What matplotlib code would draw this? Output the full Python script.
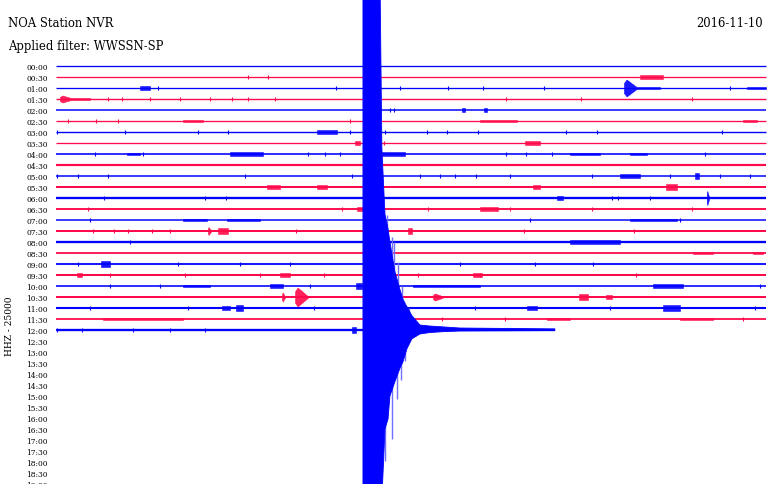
import numpy as np
import matplotlib
matplotlib.use("Agg")
import matplotlib.pyplot as plt

# helicorder: one trace per 30 minutes, x in minutes within the row
row_labels = ["%02d:%02d" % (h, m) for h in range(20) for m in (0, 30)][:39]
n_traces = 25                      # 00:00 .. 12:00 recorded so far
last_trace_end = 21.08             # minutes recorded in the 12:00 row

# apparent trace thickness per row (pixels)
row_noise = [1.3, 1.3, 1.3, 1.4, 1.5, 1.3, 1.4, 1.3, 1.6, 2.2, 1.5, 2.0, 2.3,
             1.9, 1.5, 2.0, 2.3, 1.8, 1.8, 2.0, 1.6, 2.0, 2.1, 1.8, 2.3]

# wave bursts: row, start (min), end (min), half amplitude (rows)
burst_row = [2, 3, 3, 5, 6, 7, 8, 8, 11, 11, 13, 14, 14, 15, 15, 18, 19, 19,
             20, 20, 20, 21, 21, 22, 22, 23, 24,
             1, 2, 2, 2, 4, 4, 5, 5, 7, 8, 8, 8, 10, 10, 11, 11, 12, 12, 13,
             14, 15, 16, 17, 17, 19, 20, 20, 21, 21, 21, 22, 22, 23, 23]
burst_start = [3.55, 0.17, 0.68, 5.37, 11.03, 12.63, 3.00, 7.35, 8.92, 11.03,
               12.72, 5.37, 7.23, 6.42, 6.84, 1.90, 0.89, 9.46, 5.37, 9.04,
               12.68, 9.55, 10.10, 7.01, 7.61, 1.99, 12.51,
               24.68, 24.00, 24.55, 29.20, 17.15, 18.08, 17.91, 29.03, 19.82,
               13.69, 21.72, 24.25, 23.83, 27.00, 20.15, 25.77, 27.50, 21.17,
               17.91, 24.25, 14.87, 21.72, 26.91, 29.45, 17.62, 15.08, 25.22,
               15.93, 22.10, 23.24, 19.90, 25.65, 20.75, 26.37]
burst_end = [3.97, 0.68, 1.44, 6.21, 11.87, 12.85, 3.55, 8.75, 9.46, 11.45,
             12.97, 6.38, 8.62, 6.55, 7.27, 2.28, 1.10, 9.89, 6.51, 9.59,
             12.93, 9.68, 10.65, 7.35, 7.90, 5.37, 12.68,
             25.65, 24.55, 25.52, 30.0, 17.28, 18.21, 19.48, 29.62, 20.45,
             14.75, 22.99, 24.97, 24.68, 27.17, 20.45, 26.24, 27.60, 21.42,
             18.68, 26.24, 15.04, 23.83, 27.76, 29.87, 18.00, 17.91, 26.49,
             16.35, 22.48, 23.49, 20.32, 26.37, 21.72, 27.76]
burst_amp = [0.14, 0.32, 0.11, 0.09, 0.14, 0.18, 0.12, 0.14, 0.14, 0.18,
             0.18, 0.11, 0.11, 0.36, 0.27, 0.27, 0.18, 0.18, 0.12, 0.14,
             0.27, 0.41, 0.86, 0.18, 0.23, 0.12, 0.27,
             0.18, 0.77, 0.11, 0.09, 0.18, 0.18, 0.11, 0.11, 0.18,
             0.14, 0.12, 0.12, 0.14, 0.23, 0.18, 0.23, 0.64, 0.14,
             0.18, 0.11, 0.27, 0.18, 0.12, 0.12, 0.18, 0.12, 0.14,
             0.32, 0.23, 0.18, 0.14, 0.23, 0.12, 0.12]

# isolated small glitches: row, minute
speck_row = [1, 1, 2, 2, 2, 2, 2, 2, 2, 3, 3, 3, 3, 3, 3, 3, 3, 3, 3, 3,
             4, 4, 5, 5, 5, 5, 6, 6, 6, 6, 6, 6, 6, 6, 6, 6, 6, 6, 7,
             8, 8, 8, 8, 8, 8, 8, 8, 8, 10, 10, 10, 10, 10, 10, 10, 10, 10,
             10, 10, 10, 10, 10, 12, 12, 12, 12, 12, 12, 13, 13, 13, 13, 13,
             13, 14, 14, 14, 15, 15, 15, 15, 15, 15, 15, 15, 16, 18, 18, 18,
             18, 18, 18, 18, 19, 19, 19, 19, 19, 19, 19, 20, 20, 20, 20, 22,
             22, 22, 22, 22, 22, 23, 23, 23, 24, 24, 24, 24, 24]
speck_min = [8.11, 8.96, 4.31, 11.83, 14.53, 16.56, 18.04, 20.62, 28.48,
             2.20, 2.79, 3.97, 5.24, 6.51, 7.44, 8.11, 9.25, 19.01, 22.18,
             26.87, 14.11, 14.28, 0.51, 1.69, 2.62, 12.42, 0.04, 2.92, 6.00,
             7.27, 12.42, 13.90, 15.68, 16.52, 17.83, 21.55, 22.86, 28.14,
             13.86, 1.65, 3.68, 10.65, 11.37, 12.00, 19.01, 19.86, 20.96,
             27.42, 0.04, 0.93, 2.20, 7.99, 12.51, 15.38, 16.22, 16.86,
             17.75, 19.18, 22.65, 25.94, 28.06, 29.32, 2.03, 6.30, 7.18,
             23.49, 23.75, 25.10, 1.35, 12.08, 15.72, 19.18, 22.65, 26.87,
             1.44, 20.03, 26.37, 1.56, 2.45, 3.04, 4.06, 4.82, 10.14, 19.77,
             24.42, 3.13, 0.93, 5.15, 7.77, 9.89, 17.07, 20.24, 22.69, 2.28,
             5.45, 8.62, 11.32, 15.30, 17.91, 24.51, 2.28, 4.39, 10.73,
             29.75, 1.44, 5.58, 10.90, 17.70, 23.41, 29.53, 16.31, 18.97,
             29.03, 0.04, 1.10, 3.25, 4.82, 6.30]

# envelope of the large local event in the 12:00 row (rows above / below trace)
quake_min = [12.97, 13.65, 13.77, 13.90, 14.03, 14.11, 14.32, 14.53, 14.66,
             14.83, 15.04, 15.38, 15.80, 16.44, 17.07, 21.08]
quake_up = [40, 40, 16.5, 10.5, 9.2, 8.0, 5.3, 3.7, 2.8, 2.1, 1.3, 0.45,
            0.36, 0.27, 0.18, 0.1]
quake_down = [25, 25, 15.4, 9.0, 8.1, 6.0, 4.7, 3.5, 2.9, 1.7, 0.8, 0.36,
              0.23, 0.14, 0.09, 0.05]
spike_up_min = [13.86, 13.99, 14.20, 14.28, 14.45, 14.62, 14.92]
spike_up_len = [11.0, 10.5, 8.5, 8.0, 6.2, 4.0, 2.0]
spike_down_min = [13.90, 14.20, 14.41, 14.58, 14.75]
spike_down_len = [11.9, 9.9, 6.3, 4.5, 2.8]

blue = "#0000ff"
light_blue = "#7070ff"
red = "#ff0a4a"
px = 0.72  # points per pixel at dpi 100

fig = plt.figure(figsize=(7.7, 4.85), dpi=100)
ax = fig.add_axes([56 / 770, 0, 714 / 770, 1])
ax.set_xlim(0, 30.17)
ax.set_ylim(38, -67 / 11)

def row_color(r):
    return blue if r % 2 == 0 else red

for r in range(n_traces):
    end = last_trace_end if r == n_traces - 1 else 30
    ax.plot([0, end], [r, r], color=row_color(r), lw=row_noise[r] * px,
            solid_capstyle="butt")

for r, s, e, a in zip(burst_row, burst_start, burst_end, burst_amp):
    if a > 0.3:
        # larger events: sharp onset then decay
        xs = [s, s + (e - s) * 0.2, e]
        lo = [r - a * 0.6, r - a, r - 0.06]
        hi = [r + a * 0.6, r + a, r + 0.06]
    else:
        xs = [s, e]
        lo = [r - a, r - a]
        hi = [r + a, r + a]
    ax.fill_between(xs, lo, hi, color=row_color(r), lw=0.4, alpha=0.9)

ax.vlines(speck_min, np.array(speck_row) - 0.14, np.array(speck_row) + 0.14,
          colors=[row_color(r) for r in speck_row], lw=0.8)

q = np.array(quake_min)
ax.fill_between(q, 24 - np.array(quake_up), 24 + np.array(quake_down),
                color=blue, lw=0.6, zorder=5)
ax.vlines(spike_up_min, 24 - np.array(spike_up_len), 24, colors=light_blue,
          lw=1.0, zorder=4)
ax.vlines(spike_down_min, 24, 24 + np.array(spike_down_len),
          colors=light_blue, lw=1.0, zorder=4)

ax.set_yticks(range(len(row_labels)))
ax.set_yticklabels(row_labels, fontsize=5.4, family="DejaVu Serif")
ax.tick_params(axis="y", length=0, pad=5.8)
ax.set_xticks([])
for sp in ax.spines.values():
    sp.set_visible(False)

ax.set_ylabel("HHZ - 25000", fontsize=6.5, family="DejaVu Serif")
ax.yaxis.set_label_coords(-42 / 714, 1 - 326 / 485)

fig.text(8 / 770, 1 - 27 / 485, "NOA Station NVR", fontsize=8.4,
         family="DejaVu Serif", va="baseline")
fig.text(8 / 770, 1 - 50 / 485, "Applied filter: WWSSN-SP", fontsize=8.4,
         family="DejaVu Serif", va="baseline")
fig.text(763 / 770, 1 - 27 / 485, "2016-11-10", fontsize=8.4,
         family="DejaVu Serif", va="baseline", ha="right")

fig.savefig("out.png", dpi=100)
